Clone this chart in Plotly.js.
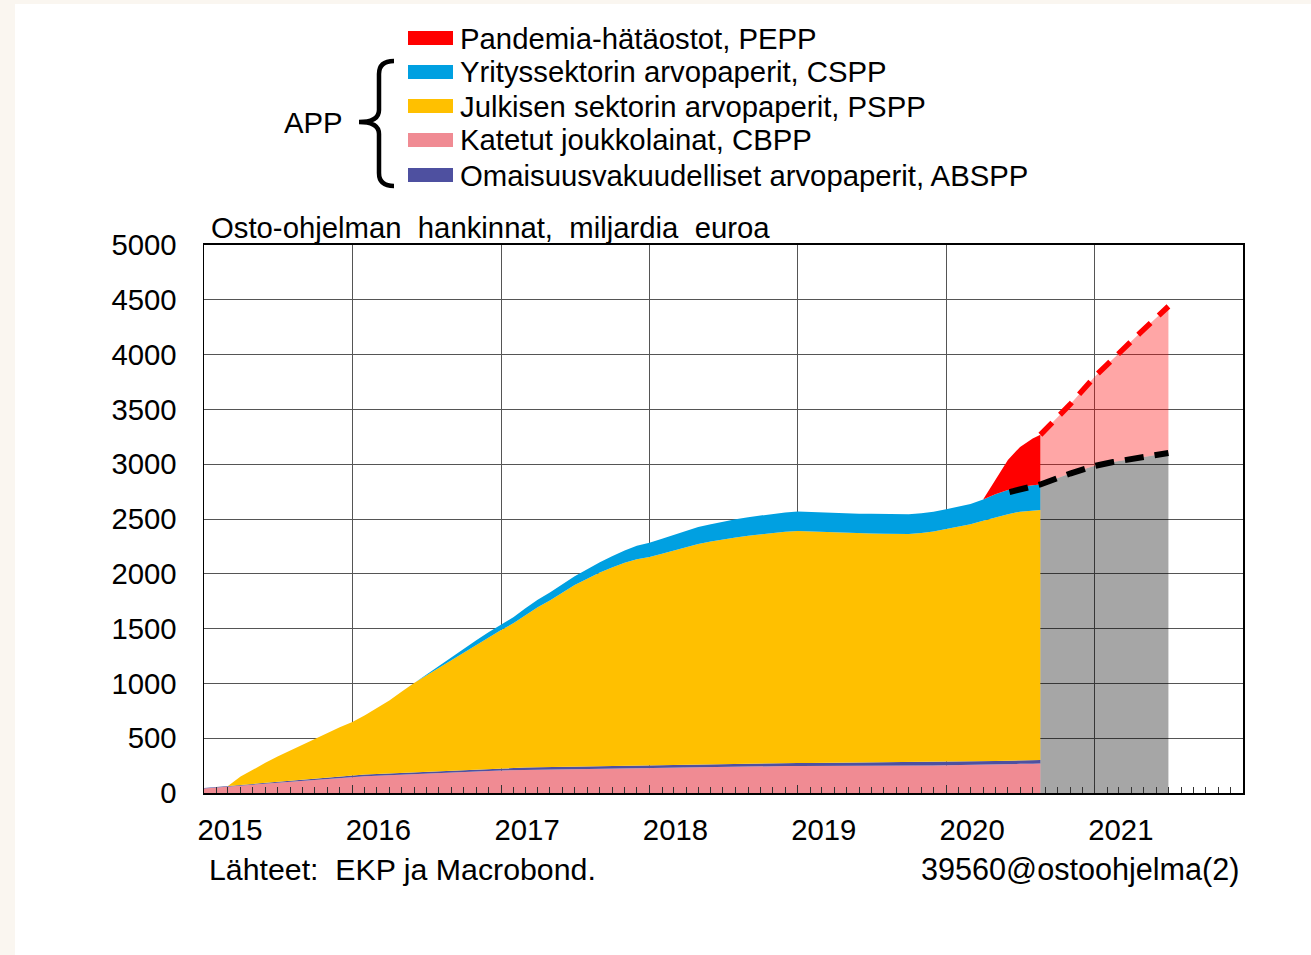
<!DOCTYPE html>
<html>
<head>
<meta charset="utf-8">
<script src="https://cdn.plot.ly/plotly-3.0.1.min.js"></script>
<style>
  html, body { margin:0; padding:0; background:#FAF6F0; }
  #frame { position:absolute; left:15px; top:4px; width:1296px; height:951px; background:#ffffff; }
  #plot { position:absolute; left:0; top:0; width:1311px; height:955px; }
</style>
</head>
<body>
<div id="frame"></div>
<div id="plot"></div>
<script>
// ---------------- DATA (billion euro) ----------------
const dates = [
 '2015-01-01','2015-02-01','2015-03-01','2015-04-01','2015-05-01','2015-06-01','2015-07-01','2015-08-01','2015-09-01','2015-10-01','2015-11-01','2015-12-01',
 '2016-01-01','2016-02-01','2016-03-01','2016-04-01','2016-05-01','2016-06-01','2016-07-01','2016-08-01','2016-09-01','2016-10-01','2016-11-01','2016-12-01',
 '2017-01-01','2017-02-01','2017-03-01','2017-04-01','2017-05-01','2017-06-01','2017-07-01','2017-08-01','2017-09-01','2017-10-01','2017-11-01','2017-12-01',
 '2018-01-01','2018-02-01','2018-03-01','2018-04-01','2018-05-01','2018-06-01','2018-07-01','2018-08-01','2018-09-01','2018-10-01','2018-11-01','2018-12-01',
 '2019-01-01','2019-02-01','2019-03-01','2019-04-01','2019-05-01','2019-06-01','2019-07-01','2019-08-01','2019-09-01','2019-10-01','2019-11-01','2019-12-01',
 '2020-01-01','2020-02-01','2020-03-01','2020-04-01','2020-05-01','2020-06-01','2020-07-01','2020-08-01','2020-08-20'
];
const cbpp = [
 42,51,60,69,78,87,96,104,112,121,130,140,
 149,153,158,162,166,170,174,178,183,188,194,200,
 206,208,210,212,214,216,218,220,222,224,226,228,
 230,232,234,235,237,238,240,241,243,244,245,246,
 247,247,248,248,248,249,249,249,250,250,251,252,
 254,255,257,259,262,264,266,268,269
];
const abspp = [
 3,4,5,6,7,8,9,10,11,12,13,14,
 15,16,16,17,17,18,18,19,19,20,21,21,
 22,22,22,23,23,23,24,24,24,24,25,25,
 25,25,25,26,26,26,26,26,27,27,27,27,
 27,27,27,27,28,28,28,28,28,28,29,29,
 29,29,29,30,30,30,31,31,31
];
const pspp = [
 0,0,0,75,130,180,228,275,320,365,405,445,
 484,540,600,665,740,815,880,945,1010,1075,1140,1200,
 1259,1320,1390,1460,1520,1590,1655,1710,1765,1810,1850,1880,
 1898,1925,1950,1985,2010,2030,2048,2064,2078,2090,2102,2110,
 2117,2112,2108,2100,2095,2092,2090,2088,2086,2085,2092,2105,
 2126,2145,2165,2195,2225,2250,2270,2280,2282
];
const cspp = [
 0,0,0,0,0,0,0,0,0,0,0,0,
 0,0,0,0,0,0,8,15,22,30,38,45,
 48,55,62,68,72,75,80,87,95,103,112,122,
 130,137,143,148,153,158,163,166,169,172,175,177,
 178,178,178,179,179,179,180,180,180,180,180,180,
 180,182,186,195,208,220,226,230,232
];
const pepp = [
 0,0,0,0,0,0,0,0,0,0,0,0,
 0,0,0,0,0,0,0,0,0,0,0,0,
 0,0,0,0,0,0,0,0,0,0,0,0,
 0,0,0,0,0,0,0,0,0,0,0,0,
 0,0,0,0,0,0,0,0,0,0,0,0,
 0,0,0,0,135,275,365,425,455
];
// Projections
const appLineDates = ['2020-06-05','2020-08-20','2020-11-01','2021-01-01','2021-02-15','2021-04-20','2021-07-01'];
const appLineValues = [2746,2815,2915,2985,3020,3058,3102];
const projDates = ['2020-08-20','2020-11-01','2021-01-01','2021-02-15','2021-04-20','2021-07-01'];
const appProj = [2815,2915,2985,3020,3058,3102];
const totalProj = [3269,3545,3800,3965,4190,4440];

const names = {
  pepp:'Pandemia-hätäostot, PEPP',
  cspp:'Yrityssektorin arvopaperit, CSPP',
  pspp:'Julkisen sektorin arvopaperit, PSPP',
  cbpp:'Katetut joukkolainat, CBPP',
  abspp:'Omaisuusvakuudelliset arvopaperit, ABSPP'
};
const colors = { pepp:'#FF0000', cspp:'#00A0E1', pspp:'#FFC000', cbpp:'#F08B93', abspp:'#4E50A0' };

// ---------------- LAYOUT helpers ----------------
const L=204, R=1243, T=245, B=793;
const px = x => (x-L)/(R-L);
const py = y => (B-y)/(B-T);
const FONT = 'Liberation Sans, Arial, Helvetica, sans-serif';
const FS = 29.3;

function area(key, y){
  return { type:'scatter', mode:'lines', x:dates, y:y, name:names[key], stackgroup:'s',
           line:{width:0, color:colors[key]}, fillcolor:colors[key], showlegend:false, hoverinfo:'skip' };
}
const traces = [
  area('cbpp', cbpp), area('abspp', abspp), area('pspp', pspp), area('cspp', cspp), area('pepp', pepp),
  { type:'scatter', mode:'lines', x:projDates, y:appProj, fill:'tozeroy', fillcolor:'rgba(0,0,0,0.35)',
    line:{width:0}, showlegend:false, hoverinfo:'skip' },
  { type:'scatter', mode:'lines', x:projDates.concat(projDates.slice().reverse()),
    y:totalProj.concat(appProj.slice().reverse()), fill:'toself', fillcolor:'rgba(255,0,0,0.35)',
    line:{width:0}, showlegend:false, hoverinfo:'skip' },
  { type:'scatter', mode:'lines', x:projDates, y:totalProj, line:{color:'#FF0000', width:5.5, dash:'17px,11px'},
    showlegend:false, hoverinfo:'skip' },
  { type:'scatter', mode:'lines', x:appLineDates, y:appLineValues, line:{color:'#000000', width:6, dash:'19px,11px'},
    showlegend:false, hoverinfo:'skip' }
];

// custom legend
const legendKeys = ['pepp','cspp','pspp','cbpp','abspp'];
const rowY = [38, 72, 106, 140, 175];
const shapes = [];
const annotations = [];
legendKeys.forEach((k,i)=>{
  shapes.push({type:'rect', xref:'paper', yref:'paper', x0:px(408), x1:px(453), y0:py(rowY[i]+7), y1:py(rowY[i]-7),
               fillcolor:colors[k], line:{width:0}});
  annotations.push({xref:'paper', yref:'paper', x:px(458), y:py(rowY[i]), xanchor:'left', yanchor:'middle',
               text:names[k], showarrow:false, font:{family:FONT, size:FS, color:'#000'}});
});
// brace
const bp = [[394,61],[379,61],[379,74],[379,110],[379,122],[359,122],[379,122],[379,134],[379,173],[379,186],[394,186]];
const P = p => px(p[0]).toFixed(5)+','+py(p[1]).toFixed(5);
const bracePath = 'M'+P(bp[0])+' Q'+P(bp[1])+' '+P(bp[2])+' L'+P(bp[3])+' Q'+P(bp[4])+' '+P(bp[5])+
                  ' Q'+P(bp[6])+' '+P(bp[7])+' L'+P(bp[8])+' Q'+P(bp[9])+' '+P(bp[10]);
shapes.push({type:'path', xref:'paper', yref:'paper', path:bracePath, line:{color:'#000', width:4.5}});
annotations.push({xref:'paper', yref:'paper', x:px(345), y:py(122), xanchor:'right', yanchor:'middle',
  text:'APP', showarrow:false, font:{family:FONT, size:FS, color:'#000'}});
annotations.push({xref:'paper', yref:'paper', x:px(209), y:py(228), xanchor:'left', yanchor:'middle',
  text:'Osto-ohjelman\u00a0 hankinnat,\u00a0 miljardia\u00a0 euroa', showarrow:false, font:{family:FONT, size:FS, color:'#000'}});
annotations.push({xref:'paper', yref:'paper', x:px(207), y:py(869), xanchor:'left', yanchor:'middle',
  text:'Lähteet:\u00a0 EKP ja Macrobond.', showarrow:false, font:{family:FONT, size:30.3, color:'#000'}});
annotations.push({xref:'paper', yref:'paper', x:px(1242), y:py(869), xanchor:'right', yanchor:'middle',
  text:'39560@ostoohjelma(2)', showarrow:false, font:{family:FONT, size:30.6, color:'#000'}});

const layout = {
  width:1311, height:955, autosize:false,
  margin:{l:L, r:1311-R, t:T, b:955-B, pad:0},
  paper_bgcolor:'rgba(0,0,0,0)', plot_bgcolor:'rgba(0,0,0,0)',
  showlegend:false,
  font:{family:FONT, size:FS, color:'#000'},
  xaxis:{
    type:'date', range:['2015-01-01','2021-12-31 12:00'], tick0:'2015-01-01', dtick:'M12', tickformat:'%Y',
    ticks:'inside', ticklen:8, tickwidth:1, tickcolor:'#333',
    showgrid:true, gridcolor:'#555', gridwidth:1,
    showline:true, linecolor:'#000', linewidth:2, mirror:true, zeroline:false,
    ticklabelshift:26, ticklabelstandoff:10,
    tickfont:{family:FONT, size:FS, color:'#000'},
    minor:{tick0:'2015-01-01', dtick:'M1', ticks:'inside', ticklen:6, tickwidth:1, tickcolor:'#333', showgrid:false}
  },
  yaxis:{
    range:[0,5000], dtick:500, tick0:0, ticks:'', showgrid:true, gridcolor:'#555', gridwidth:1,
    showline:true, linecolor:'#000', linewidth:1.5, mirror:true, zeroline:false,
    ticklabelstandoff:20, tickfont:{family:FONT, size:FS, color:'#000'}
  },
  shapes:shapes, annotations:annotations
};
Plotly.newPlot('plot', traces, layout, {displayModeBar:false, staticPlot:true});
</script>
</body>
</html>
